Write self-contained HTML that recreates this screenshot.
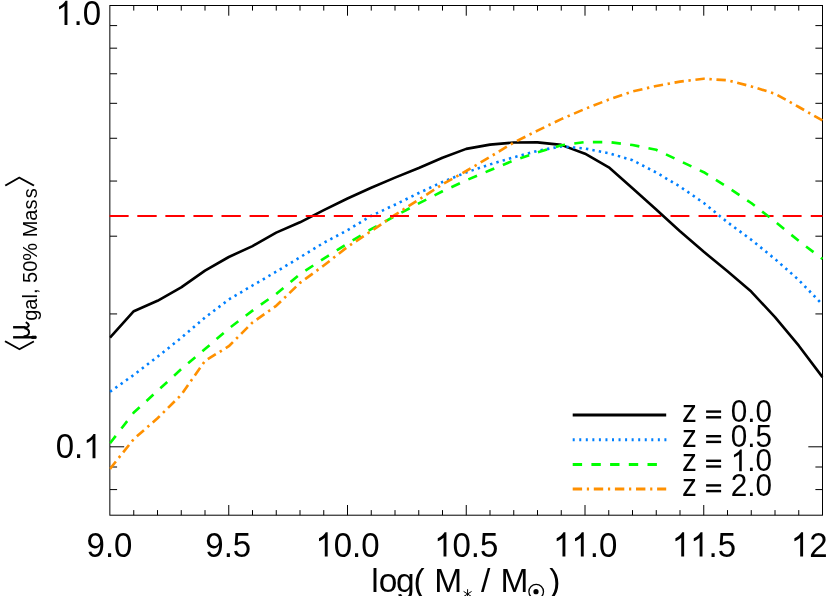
<!DOCTYPE html>
<html><head><meta charset="utf-8"><title>chart</title>
<style>html,body{margin:0;padding:0;background:#fff;overflow:hidden}body{width:830px;height:596px;position:relative;font-family:"Liberation Sans",sans-serif}</style></head>
<body>
<svg width="830" height="596" viewBox="0 0 830 596" style="position:absolute;left:0;top:0">
<rect width="830" height="596" fill="#fff"/>
<g fill="none" stroke="#000" stroke-width="1">
<rect x="109.85" y="5.5" width="712.65" height="509.7"/>
<path d="M133.75 515.2v-5.1M133.75 5.5v5.1M157.50 515.2v-5.1M157.50 5.5v5.1M181.25 515.2v-5.1M181.25 5.5v5.1M205.00 515.2v-5.1M205.00 5.5v5.1M228.75 515.2v-10.2M228.75 5.5v10.2M252.50 515.2v-5.1M252.50 5.5v5.1M276.25 515.2v-5.1M276.25 5.5v5.1M300.00 515.2v-5.1M300.00 5.5v5.1M323.75 515.2v-5.1M323.75 5.5v5.1M347.50 515.2v-10.2M347.50 5.5v10.2M371.25 515.2v-5.1M371.25 5.5v5.1M395.00 515.2v-5.1M395.00 5.5v5.1M418.75 515.2v-5.1M418.75 5.5v5.1M442.50 515.2v-5.1M442.50 5.5v5.1M466.25 515.2v-10.2M466.25 5.5v10.2M490.00 515.2v-5.1M490.00 5.5v5.1M513.75 515.2v-5.1M513.75 5.5v5.1M537.50 515.2v-5.1M537.50 5.5v5.1M561.25 515.2v-5.1M561.25 5.5v5.1M585.00 515.2v-10.2M585.00 5.5v10.2M608.75 515.2v-5.1M608.75 5.5v5.1M632.50 515.2v-5.1M632.50 5.5v5.1M656.25 515.2v-5.1M656.25 5.5v5.1M680.00 515.2v-5.1M680.00 5.5v5.1M703.75 515.2v-10.2M703.75 5.5v10.2M727.50 515.2v-5.1M727.50 5.5v5.1M751.25 515.2v-5.1M751.25 5.5v5.1M775.00 515.2v-5.1M775.00 5.5v5.1M798.75 515.2v-5.1M798.75 5.5v5.1M110.0 25.60h7.1M822.5 25.60h-7.1M110.0 48.18h7.1M822.5 48.18h-7.1M110.0 73.77h7.1M822.5 73.77h-7.1M110.0 103.32h7.1M822.5 103.32h-7.1M110.0 138.27h7.1M822.5 138.27h-7.1M110.0 181.05h7.1M822.5 181.05h-7.1M110.0 236.20h7.1M822.5 236.20h-7.1M110.0 313.93h7.1M822.5 313.93h-7.1M110.0 446.80h14.2M822.5 446.80h-14.2M110.0 467.00h7.1M822.5 467.00h-7.1M110.0 489.58h7.1M822.5 489.58h-7.1M110.0 5.50h14.2M822.5 5.50h-14.2"/>
</g>
<g fill="none" stroke-linejoin="round" clip-path="url(#cp)">
<clipPath id="cp"><rect x="109.5" y="5.5" width="714.0" height="509.7"/></clipPath>
<path d="M109.5 216 L822.5 216" stroke="#ff0000" stroke-width="2.2" stroke-dasharray="18.9 9.15"/>
<path d="M110.0 337.6 L133.8 311.2 L157.5 300.8 L181.2 287.4 L205.0 270.6 L228.8 257.0 L252.5 246.1 L276.2 232.6 L300.0 222.3 L323.8 210.2 L347.5 198.5 L371.2 187.7 L395.0 177.6 L418.8 168.0 L442.5 157.7 L466.2 148.9 L490.0 144.6 L513.8 142.5 L537.5 142.4 L561.2 144.9 L585.0 153.7 L608.8 167.3 L632.5 188.2 L656.2 209.5 L680.0 231.3 L703.8 251.8 L727.5 271.3 L751.2 291.6 L775.0 317.1 L798.8 345.7 L822.5 377.1" stroke="#000" stroke-width="2.6"/>
<path d="M110.0 391.8 L133.8 374.9 L157.5 356.8 L181.2 337.9 L205.0 317.6 L228.8 299.5 L252.5 285.5 L276.2 271.7 L300.0 257.3 L323.8 242.8 L347.5 230.2 L371.2 215.8 L395.0 204.7 L418.8 193.0 L442.5 182.0 L466.2 172.4 L490.0 164.4 L513.8 157.3 L537.5 150.9 L561.2 146.4 L585.0 148.5 L608.8 153.2 L632.5 160.2 L656.2 172.5 L680.0 186.6 L703.8 203.0 L727.5 222.3 L751.2 239.7 L775.0 259.0 L798.8 280.0 L822.5 304.7" stroke="#0080ff" stroke-width="2.6" stroke-dasharray="2.4 4.15"/>
<path d="M110.0 443.3 L133.8 412.5 L157.5 390.9 L181.2 369.2 L205.0 349.1 L228.8 328.5 L252.5 310.6 L276.2 293.9 L300.0 274.2 L323.8 258.6 L347.5 243.5 L371.2 229.2 L395.0 216.0 L418.8 203.4 L442.5 191.3 L466.2 180.3 L490.0 170.3 L513.8 160.4 L537.5 152.3 L561.2 145.3 L585.0 142.1 L608.8 142.1 L632.5 145.0 L656.2 149.8 L680.0 161.0 L703.8 172.2 L727.5 187.1 L751.2 203.0 L775.0 221.6 L798.8 240.9 L822.5 259.0" stroke="#00ff00" stroke-width="2.65" stroke-dasharray="9.4 9.3"/>
<path d="M110.0 468.8 L133.8 439.0 L157.5 418.3 L181.2 394.9 L205.0 360.9 L228.8 346.2 L252.5 322.5 L276.2 305.8 L300.0 282.9 L323.8 265.5 L347.5 246.9 L371.2 231.1 L395.0 214.9 L418.8 199.6 L442.5 184.3 L466.2 171.0 L490.0 156.9 L513.8 142.5 L537.5 130.6 L561.2 119.1 L585.0 108.9 L608.8 99.6 L632.5 91.5 L656.2 86.0 L680.0 81.6 L703.8 78.7 L727.5 80.3 L751.2 86.4 L775.0 93.7 L798.8 107.0 L822.5 120.5" stroke="#ff9000" stroke-width="2.65" stroke-dasharray="9.4 4.65 2.4 4.65"/>
<path d="M109.5 216 L822.5 216" stroke="#ff0000" stroke-width="2.2" stroke-dasharray="18.9 9.15" clip-path="url(#cpl)"/>
<clipPath id="cpl"><rect x="100" y="200" width="500" height="30"/></clipPath>
</g>
<g fill="none" stroke-width="3">
<path d="M572.7 415.1H666.2" stroke="#000"/>
<path d="M572.7 439.8H666.6" stroke="#0080ff" stroke-dasharray="2 4.55"/>
<path d="M572.7 464.4H666.2" stroke="#00ff00" stroke-dasharray="9.4 9.3"/>
<path d="M572.7 489.1H666.2" stroke="#ff9000" stroke-dasharray="9.4 4.75 2.2 4.75"/>
</g>
<g font-family="Liberation Sans, sans-serif" fill="#000" style="opacity:0.999">
<g font-size="33.5">
<g transform="translate(101.00,25.00) scale(0.985,1.040)"><path transform="translate(-46.57,0) scale(0.01636,-0.01590)" d="M763 0H583V1147Q518 1085 412.5 1023T223 930V1104Q373 1175 485 1275T644 1472H763Z"/><text font-size="33.5" x="-27.94 -18.63">.0</text></g>
<g transform="translate(101.50,458.30) scale(0.985,1.040)"><path transform="translate(-18.63,0) scale(0.01636,-0.01590)" d="M763 0H583V1147Q518 1085 412.5 1023T223 930V1104Q373 1175 485 1275T644 1472H763Z"/><text font-size="33.5" x="-46.57 -27.94">0.</text></g>
<g transform="translate(109.50,556.60) scale(0.985,1.040)"><text font-size="33.5" x="-23.28 -4.66 4.66">9.0</text></g>
<g transform="translate(228.25,556.60) scale(0.985,1.040)"><text font-size="33.5" x="-23.28 -4.66 4.66">9.5</text></g>
<g transform="translate(347.50,556.60) scale(0.985,1.040)"><path transform="translate(-32.60,0) scale(0.01636,-0.01590)" d="M763 0H583V1147Q518 1085 412.5 1023T223 930V1104Q373 1175 485 1275T644 1472H763Z"/><text font-size="33.5" x="-13.97 4.66 13.97">0.0</text></g>
<g transform="translate(466.25,556.60) scale(0.985,1.040)"><path transform="translate(-32.60,0) scale(0.01636,-0.01590)" d="M763 0H583V1147Q518 1085 412.5 1023T223 930V1104Q373 1175 485 1275T644 1472H763Z"/><text font-size="33.5" x="-13.97 4.66 13.97">0.5</text></g>
<g transform="translate(585.20,556.60) scale(0.985,1.040)"><path transform="translate(-32.60,0) scale(0.01636,-0.01590)" d="M763 0H583V1147Q518 1085 412.5 1023T223 930V1104Q373 1175 485 1275T644 1472H763Z"/><path transform="translate(-13.97,0) scale(0.01636,-0.01590)" d="M763 0H583V1147Q518 1085 412.5 1023T223 930V1104Q373 1175 485 1275T644 1472H763Z"/><text font-size="33.5" x="4.66 13.97">.0</text></g>
<g transform="translate(703.95,556.60) scale(0.985,1.040)"><path transform="translate(-32.60,0) scale(0.01636,-0.01590)" d="M763 0H583V1147Q518 1085 412.5 1023T223 930V1104Q373 1175 485 1275T644 1472H763Z"/><path transform="translate(-13.97,0) scale(0.01636,-0.01590)" d="M763 0H583V1147Q518 1085 412.5 1023T223 930V1104Q373 1175 485 1275T644 1472H763Z"/><text font-size="33.5" x="4.66 13.97">.5</text></g>
<g transform="translate(822.90,556.60) scale(0.985,1.040)"><path transform="translate(-32.60,0) scale(0.01636,-0.01590)" d="M763 0H583V1147Q518 1085 412.5 1023T223 930V1104Q373 1175 485 1275T644 1472H763Z"/><text font-size="33.5" x="-13.97 4.66 13.97">2.0</text></g>
<text x="371.2" y="592.4" dx="0 0 -1.4 -1.0">log(</text>
<text x="434.3" y="592.4">M</text>
<text x="481.0" y="592.4">/</text>
<text x="500.4" y="592.4">M</text>
<text x="549.2" y="592.4">)</text>
</g>
<path d="M467.6 589.2V598.8M463.6 591.4L471.6 596.6M471.6 591.4L463.6 596.6" fill="none" stroke="#000" stroke-width="1"/>
<circle cx="536.2" cy="591.7" r="7.3" fill="none" stroke="#000" stroke-width="1.3"/><circle cx="536.0" cy="591.7" r="2.6"/>
<g transform="translate(682.00,422.00) scale(1.000,1.050)"><rect x="24.11" y="-11.05" width="15" height="2.29"/><rect x="24.11" y="-5.62" width="15" height="2.29"/><text font-size="29.7" x="0.00 48.71 65.22 73.48">z0.0</text></g>
<g transform="translate(682.00,446.60) scale(1.000,1.050)"><rect x="24.11" y="-11.05" width="15" height="2.29"/><rect x="24.11" y="-5.62" width="15" height="2.29"/><text font-size="29.7" x="0.00 48.71 65.22 73.48">z0.5</text></g>
<g transform="translate(682.00,471.20) scale(1.000,1.050)"><rect x="24.11" y="-11.05" width="15" height="2.29"/><rect x="24.11" y="-5.62" width="15" height="2.29"/><path transform="translate(48.71,0) scale(0.01450,-0.01410)" d="M763 0H583V1147Q518 1085 412.5 1023T223 930V1104Q373 1175 485 1275T644 1472H763Z"/><text font-size="29.7" x="0.00 65.22 73.48">z.0</text></g>
<g transform="translate(682.00,495.80) scale(1.000,1.050)"><rect x="24.11" y="-11.05" width="15" height="2.29"/><rect x="24.11" y="-5.62" width="15" height="2.29"/><text font-size="29.7" x="0.00 48.71 65.22 73.48">z2.0</text></g>
<g transform="translate(29,350) rotate(-90)">
<path d="M8.8 -24 L0.8 -9.6 L8.6 4.9" fill="none" stroke="#000" stroke-width="1.8"/>
<g fill="none" stroke="#000" stroke-linecap="butt">
<path d="M12.7 -15.9V5.4" stroke-width="2.4"/>
<path d="M12.7 3.4V6.2" stroke-width="3.2" stroke-linecap="round"/>
<path d="M22.75 -15.9V-3.5" stroke-width="2.4"/>
<path d="M13.6 -5.5C14.2 1.8 20.6 1.8 21.8 -4.5" stroke-width="2"/>
<path d="M22.4 -4.5C22.6 0.6 25.6 1.2 27.9 -3.2" stroke-width="1.9"/>
</g>
<text x="29.2" y="8" font-size="20" dx="0 0 0 0 0 0 0 0 0 0 0 0 1.2">gal, 50% Mass</text>
<path d="M164.4 -23.7 L172.4 -9.7 L164.4 5" fill="none" stroke="#000" stroke-width="1.8"/>
</g>
</g>
</svg>
</body></html>
